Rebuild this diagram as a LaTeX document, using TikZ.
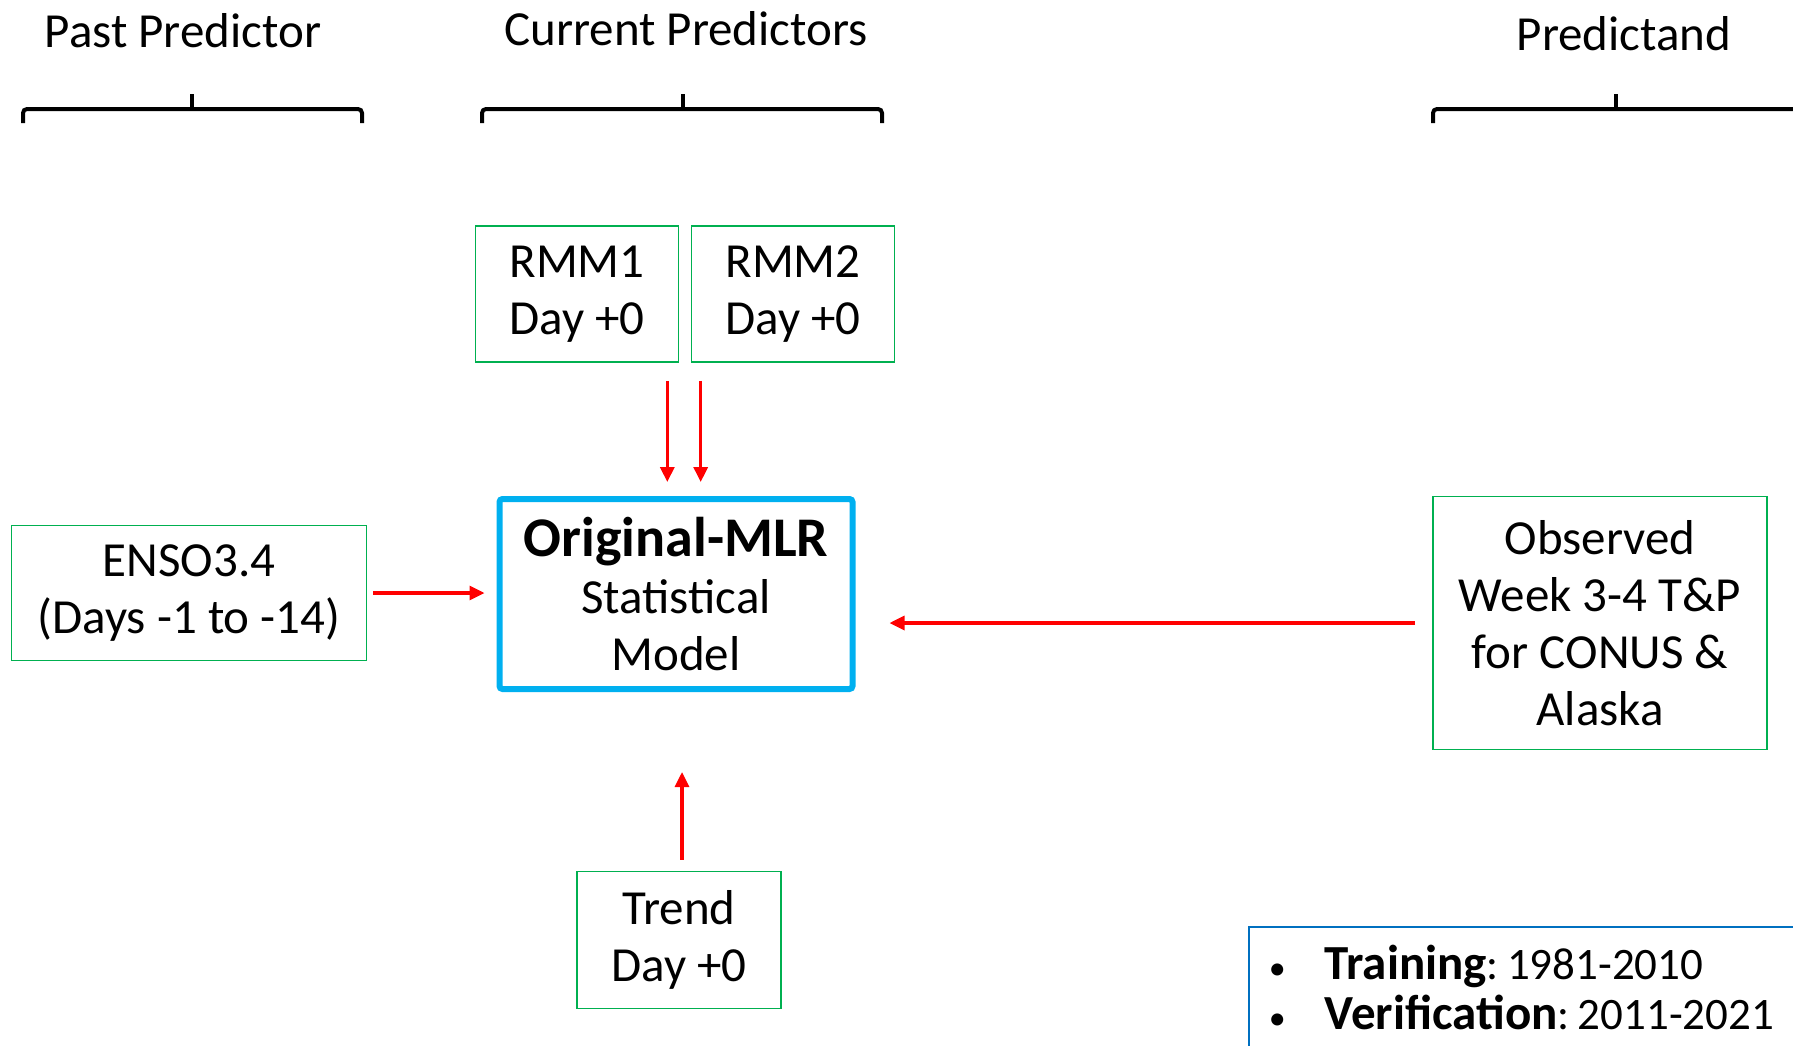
\documentclass[tikz,border=0pt]{standalone}
\usepackage{fontspec}
\setmainfont{Carlito}
\usetikzlibrary{arrows.meta}

\definecolor{boxgreen}{HTML}{00B050}
\definecolor{mlrblue}{HTML}{00B0F0}
\definecolor{noteblue}{HTML}{0070C0}

% brace over a group of predictors: left end, middle tick, right end
\newcommand{\drawBrace}[3]{\draw[brace] (#1,123) -- (#1,109) -- (#3,109) -- (#3,123); \draw[brace] (#2,109) -- (#2,94);}
% wide bold words
\newcommand{\wideBold}[2]{{\fontsize{#1}{28.5}\selectfont\bfseries #2}}
% bullet of the note
\newcommand{\noteBullet}{\makebox[28pt][l]{\fontsize{17}{20}\selectfont\textbullet}}

\tikzset{
    txt/.style={font=\fontsize{24.5}{28.5}\selectfont},
    predbox/.style={txt, draw=boxgreen, line width=0.8pt, align=center, inner sep=0pt},
    mlrbox/.style={txt, draw=mlrblue, line width=3pt, rounded corners=1.5pt, align=center, inner sep=0pt,
        minimum width=176.5pt, minimum height=95pt},
    flow/.style={red, line width=1.6pt, -{Triangle[length=7.5pt,width=7pt]}},
    brace/.style={line width=2pt, rounded corners=2pt},
}

\begin{document}
\begin{tikzpicture}[x=0.5pt, y=-0.5pt]
    \useasboundingbox (0,0) rectangle (1793,1045);

    % group titles
    \node[txt] (pasttitle) at (183,31) {Past Predictor};
    \node[txt] (curtitle) at (686,29) {Current Predictors};
    \node[txt] (predtitle) at (1624,34) {Predictand};

    \drawBrace{23}{192}{362}
    \drawBrace{482}{683}{882}
    \drawBrace{1433}{1616}{1810}

    % predictors
    \node[predbox, minimum width=101.5pt, minimum height=68pt] (rmmone) at (577,294) {RMM1\\Day +0};
    \node[predbox, minimum width=101.5pt, minimum height=68pt] (rmmtwo) at (793,294) {RMM2\\Day +0};
    \node[predbox, minimum width=177.5pt, minimum height=67.5pt] (enso) at (189,593) {ENSO3.4\\(Days -1 to -14)};
    \node[predbox, minimum width=102pt, minimum height=68.5pt] (trend) at (679,940) {Trend\\Day +0};

    % model and predictand
    \node[mlrbox] (mlr) at (676,594) {\wideBold{28}{Original-MLR}\\Statistical\\Model};
    \node[predbox, minimum width=167pt, minimum height=126.5pt] (obs) at (1600,623) {Observed\\Week 3-4 T\&P\\for CONUS \&\\Alaska};

    % arrows into the model
    \draw[flow, shorten >=7pt] ([xshift=-6pt,yshift=-9pt]rmmone.south east) -- ([xshift=-6pt]rmmone.south east |- mlr.north);
    \draw[flow, shorten >=7pt] ([xshift=5pt,yshift=-9pt]rmmtwo.south west) -- ([xshift=5pt]rmmtwo.south west |- mlr.north);
    \draw[flow, shorten <=3pt, shorten >=6pt] (enso.east) -- (enso.east -| mlr.west);
    \draw[flow, shorten <=8.5pt, shorten >=17pt] (obs.west) -- (obs.west -| mlr.east);
    \draw[flow, shorten <=5.5pt, shorten >=40pt] ([xshift=1.5pt]trend.north) -- ([xshift=1.5pt]trend.north |- mlr.south);

    % training / verification note
    \node[draw=noteblue, line width=0.8pt, anchor=north west, align=left, inner xsep=10pt, inner ysep=9pt,
        font=\fontsize{22.5}{25}\selectfont, text width=300pt] (note) at (1248,926)
        {\noteBullet\wideBold{24.5}{Training}:\hspace{4pt}1981-2010\\
         \noteBullet\wideBold{24.5}{Verification}:\hspace{4pt}2011-2021};
\end{tikzpicture}
\end{document}
